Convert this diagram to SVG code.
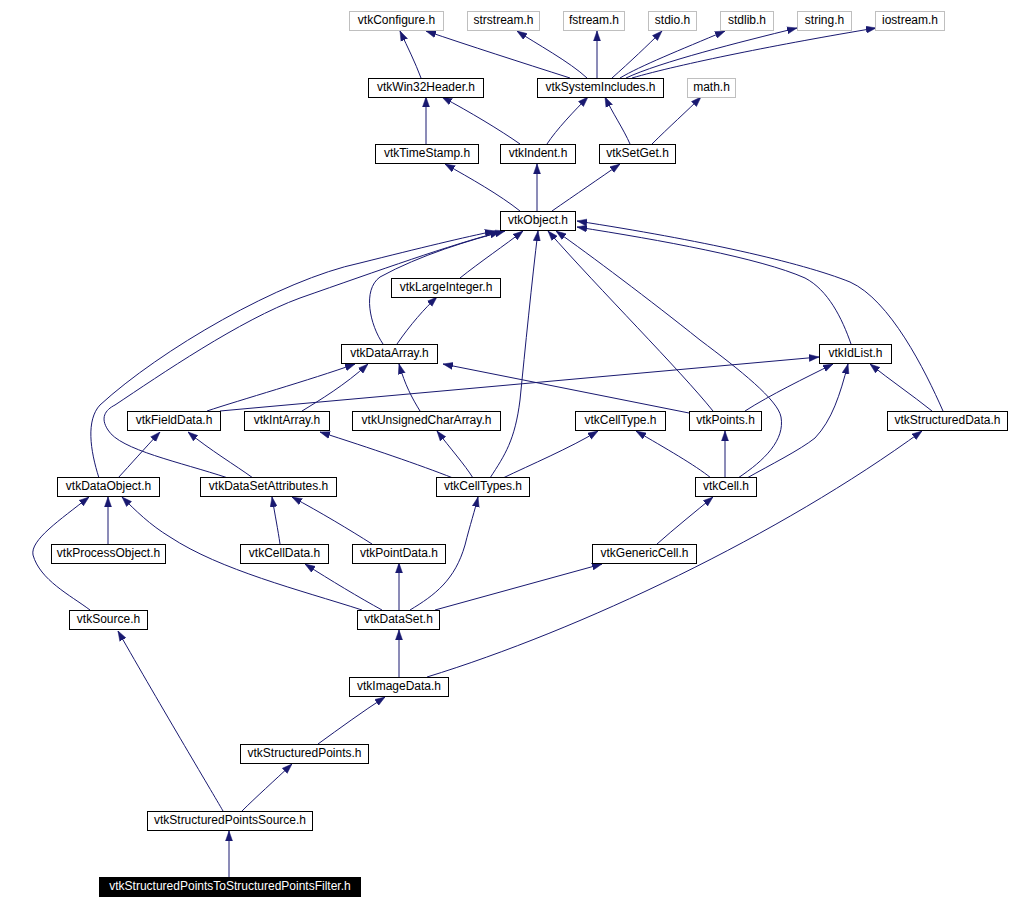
<svg xmlns="http://www.w3.org/2000/svg" width="1009" height="909" viewBox="0 0 1009 909">
<style>
.n rect{fill:#fff;stroke:#000;stroke-width:1}
.g rect{fill:#fff;stroke:#bfbfbf;stroke-width:1}
.r rect{fill:#000;stroke:#000;stroke-width:1}
text{font-family:"Liberation Sans",Arial,sans-serif;font-size:12px;text-anchor:middle;fill:#000}
.r text{fill:#fff}
.e path{fill:none;stroke:#191970;stroke-width:1;marker-end:url(#a)}
</style>
<defs>
<marker id="a" markerWidth="10" markerHeight="8" refX="10" refY="4" orient="auto" markerUnits="userSpaceOnUse"><path d="M0,0.5 L10,4 L0,7.5 z" fill="#191970" stroke="#191970" stroke-width="0.5"/></marker>
</defs>
<rect width="1009" height="909" fill="#fff"/>
<g class="e" id="edges">
<path d="M421,78 C415,62 408,48 400,31"/>
<path d="M570,78 C520,62 470,46 426,31"/>
<path d="M587,78 C570,62 535,43 517,31"/>
<path d="M597,78 L597,31"/>
<path d="M612,78 C630,62 648,45 662,31"/>
<path d="M620,78 C640,66 680,50 725,31"/>
<path d="M626,78 C660,62 740,42 797,28"/>
<path d="M632,78 C680,64 780,44 876,28"/>
<path d="M426,144 L426,97"/>
<path d="M520,144 C500,130 470,112 442,97"/>
<path d="M547,144 C556,130 575,110 588,97"/>
<path d="M630,144 C624,130 612,112 605,97"/>
<path d="M652,144 C668,128 688,110 701,97"/>
<path d="M520,211 C500,195 470,178 445,164"/>
<path d="M537,211 L537,164"/>
<path d="M552,211 C575,195 600,178 620,164"/>
<path d="M460,278 C480,262 505,245 523,231"/>
<path d="M383,344 C370,325 362,290 380,277 C420,255 470,240 505,231"/>
<path d="M99,478 C90,450 86,420 100,405 C160,350 280,280 360,263 C420,248 465,237 495,231"/>
<path d="M228,478 C180,462 120,450 108,430 C100,418 105,410 115,405 C160,375 240,320 300,298 C380,270 450,245 500,232"/>
<path d="M490,478 C505,455 515,440 520,400 C525,350 532,280 538,231"/>
<path d="M713,411 C680,370 600,290 548,231"/>
<path d="M738,478 C765,460 785,440 781,417 C778,400 740,370 700,340 C650,300 590,255 556,231"/>
<path d="M851,344 C842,318 828,290 805,278 C760,258 660,240 577,227"/>
<path d="M943,411 C925,370 890,300 850,282 C800,262 700,240 577,221"/>
<path d="M397,344 C410,325 425,308 437,297"/>
<path d="M207,411 C240,400 310,380 355,364"/>
<path d="M220,411 L819,357"/>
<path d="M302,411 C320,400 345,385 368,364"/>
<path d="M420,411 C412,398 405,385 399,364"/>
<path d="M689,413 L443,364"/>
<path d="M745,411 C770,395 805,378 833,364"/>
<path d="M932,411 C912,395 890,380 870,364"/>
<path d="M747,478 C770,465 800,450 815,438 C832,420 840,395 848,364"/>
<path d="M118,478 C130,465 145,448 160,432"/>
<path d="M253,478 C235,465 210,450 188,432"/>
<path d="M453,478 C420,465 370,448 320,432"/>
<path d="M473,478 C465,465 450,448 437,431"/>
<path d="M503,478 C530,465 570,448 598,431"/>
<path d="M711,478 C695,465 665,448 636,431"/>
<path d="M725,478 L725,431"/>
<path d="M108,544 L108,497"/>
<path d="M90,610 C70,595 40,580 33,555 C30,540 60,520 89,497"/>
<path d="M362,610 C300,590 220,570 170,537 C150,525 135,510 122,497"/>
<path d="M280,544 C278,530 275,515 272,497"/>
<path d="M372,544 C350,530 320,512 292,497"/>
<path d="M382,610 C360,598 330,580 305,564"/>
<path d="M399,610 L399,563"/>
<path d="M410,610 C435,595 455,580 465,545 C470,525 475,510 478,497"/>
<path d="M435,610 L602,564"/>
<path d="M657,544 C675,528 695,512 713,497"/>
<path d="M399,677 L399,630"/>
<path d="M427,677 C580,630 780,535 922,431"/>
<path d="M318,744 C340,728 362,712 385,697"/>
<path d="M223,811 C218,802 160,705 118,631"/>
<path d="M242,811 C255,798 275,780 292,764"/>
<path d="M229,877 L229,831"/>
</g>
<g id="vtkConfigure" class="g"><rect x="349.5" y="11.5" width="94" height="19"/><text x="396.5" y="24">vtkConfigure.h</text></g>
<g id="strstream" class="g"><rect x="467.5" y="11.5" width="72" height="19"/><text x="503.5" y="24">strstream.h</text></g>
<g id="fstream" class="g"><rect x="563.5" y="11.5" width="61" height="19"/><text x="594" y="24">fstream.h</text></g>
<g id="stdio" class="g"><rect x="648.5" y="11.5" width="48" height="19"/><text x="672.5" y="24">stdio.h</text></g>
<g id="stdlib" class="g"><rect x="720.5" y="11.5" width="53" height="19"/><text x="747" y="24">stdlib.h</text></g>
<g id="string" class="g"><rect x="797.5" y="11.5" width="54" height="19"/><text x="824.5" y="24">string.h</text></g>
<g id="iostream" class="g"><rect x="875.5" y="11.5" width="69" height="19"/><text x="910" y="24">iostream.h</text></g>
<g id="vtkWin32Header" class="n"><rect x="368.5" y="78.5" width="115" height="19"/><text x="426" y="91">vtkWin32Header.h</text></g>
<g id="vtkSystemIncludes" class="n"><rect x="537.5" y="78.5" width="126" height="19"/><text x="600.5" y="91">vtkSystemIncludes.h</text></g>
<g id="math" class="g"><rect x="687.5" y="78.5" width="48" height="19"/><text x="711.5" y="91">math.h</text></g>
<g id="vtkTimeStamp" class="n"><rect x="375.5" y="144.5" width="103" height="19"/><text x="427" y="157">vtkTimeStamp.h</text></g>
<g id="vtkIndent" class="n"><rect x="500.5" y="144.5" width="75" height="19"/><text x="538" y="157">vtkIndent.h</text></g>
<g id="vtkSetGet" class="n"><rect x="599.5" y="144.5" width="76" height="19"/><text x="637.5" y="157">vtkSetGet.h</text></g>
<g id="vtkObject" class="n"><rect x="500.5" y="211.5" width="75" height="19"/><text x="538" y="224">vtkObject.h</text></g>
<g id="vtkLargeInteger" class="n"><rect x="391.5" y="278.5" width="109" height="19"/><text x="446" y="291">vtkLargeInteger.h</text></g>
<g id="vtkDataArray" class="n"><rect x="341.5" y="344.5" width="96" height="19"/><text x="389.5" y="357">vtkDataArray.h</text></g>
<g id="vtkIdList" class="n"><rect x="819.5" y="344.5" width="72" height="19"/><text x="855.5" y="357">vtkIdList.h</text></g>
<g id="vtkFieldData" class="n"><rect x="127.5" y="411.5" width="93" height="19"/><text x="174" y="424">vtkFieldData.h</text></g>
<g id="vtkIntArray" class="n"><rect x="244.5" y="411.5" width="85" height="19"/><text x="287" y="424">vtkIntArray.h</text></g>
<g id="vtkUnsignedCharArray" class="n"><rect x="352.5" y="411.5" width="148" height="19"/><text x="426.5" y="424">vtkUnsignedCharArray.h</text></g>
<g id="vtkCellType" class="n"><rect x="575.5" y="411.5" width="90" height="19"/><text x="620.5" y="424">vtkCellType.h</text></g>
<g id="vtkPoints" class="n"><rect x="689.5" y="411.5" width="72" height="19"/><text x="725.5" y="424">vtkPoints.h</text></g>
<g id="vtkStructuredData" class="n"><rect x="887.5" y="411.5" width="120" height="19"/><text x="947.5" y="424">vtkStructuredData.h</text></g>
<g id="vtkDataObject" class="n"><rect x="57.5" y="477.5" width="102" height="19"/><text x="108.5" y="490">vtkDataObject.h</text></g>
<g id="vtkDataSetAttributes" class="n"><rect x="200.5" y="477.5" width="136" height="19"/><text x="268.5" y="490">vtkDataSetAttributes.h</text></g>
<g id="vtkCellTypes" class="n"><rect x="436.5" y="477.5" width="93" height="19"/><text x="483" y="490">vtkCellTypes.h</text></g>
<g id="vtkCell" class="n"><rect x="695.5" y="477.5" width="61" height="19"/><text x="726" y="490">vtkCell.h</text></g>
<g id="vtkProcessObject" class="n"><rect x="51.5" y="544.5" width="114" height="19"/><text x="108.5" y="557">vtkProcessObject.h</text></g>
<g id="vtkCellData" class="n"><rect x="240.5" y="544.5" width="88" height="19"/><text x="284.5" y="557">vtkCellData.h</text></g>
<g id="vtkPointData" class="n"><rect x="352.5" y="544.5" width="93" height="19"/><text x="399" y="557">vtkPointData.h</text></g>
<g id="vtkGenericCell" class="n"><rect x="592.5" y="544.5" width="104" height="19"/><text x="644.5" y="557">vtkGenericCell.h</text></g>
<g id="vtkSource" class="n"><rect x="69.5" y="610.5" width="78" height="19"/><text x="108.5" y="623">vtkSource.h</text></g>
<g id="vtkDataSet" class="n"><rect x="357.5" y="610.5" width="82" height="19"/><text x="398.5" y="623">vtkDataSet.h</text></g>
<g id="vtkImageData" class="n"><rect x="349.5" y="677.5" width="99" height="19"/><text x="399" y="690">vtkImageData.h</text></g>
<g id="vtkStructuredPoints" class="n"><rect x="240.5" y="744.5" width="128" height="19"/><text x="304.5" y="757">vtkStructuredPoints.h</text></g>
<g id="vtkStructuredPointsSource" class="n"><rect x="147.5" y="811.5" width="165" height="19"/><text x="230" y="824">vtkStructuredPointsSource.h</text></g>
<g id="vtkStructuredPointsToStructuredPointsFilter" class="r"><rect x="99.5" y="877.5" width="261" height="19"/><text x="230" y="890">vtkStructuredPointsToStructuredPointsFilter.h</text></g>
</svg>
